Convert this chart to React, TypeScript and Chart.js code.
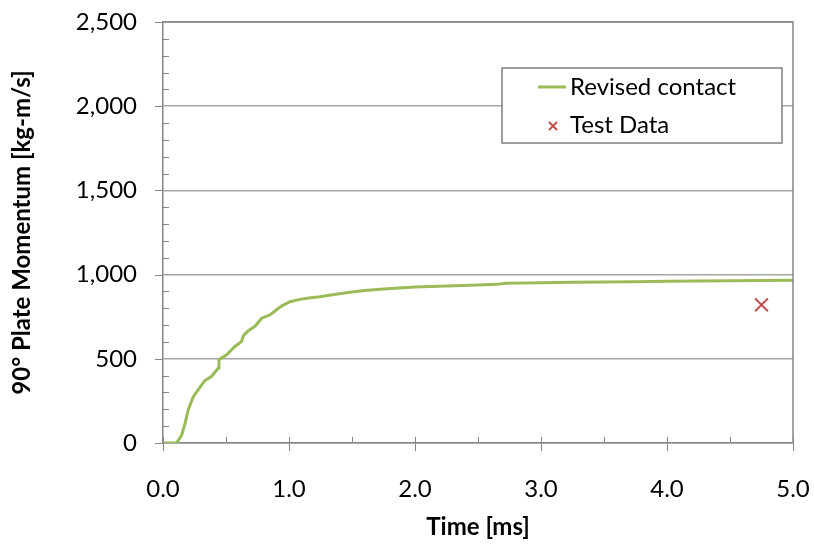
import React, { useEffect, useRef } from "react";
import { Chart, registerables } from "chart.js";

Chart.register(...registerables);

const timeMs = [0, 0.05, 0.108, 0.148, 0.175, 0.2, 0.24, 0.307, 0.333, 0.386, 0.439, 0.444, 0.505, 0.571, 0.624, 0.637, 0.677, 0.73, 0.783, 0.849, 0.889, 0.94, 1.008, 1.087, 1.17, 1.246, 1.37, 1.484, 1.6, 1.75, 2.0, 2.25, 2.5, 2.65, 2.72, 3.0, 3.25, 3.5, 3.75, 4.0, 4.25, 4.5, 4.75, 5.0];
const momentum = [0, 0, 0, 47, 117, 196, 275, 345, 371, 396, 445, 495, 524, 573, 603, 636, 667, 693, 741, 760, 784, 813, 839, 853, 862, 869, 883, 895, 906, 914, 926, 932, 938, 942, 948, 952, 954, 956, 958, 961, 962, 964, 965, 966];

const testTime = [4.75];
const testMomentum = [820];

const yTicks = [0, 500, 1000, 1500, 2000, 2500];
const xTicks = [0, 1, 2, 3, 4, 5];

const seriesNames = ["Revised contact", "Test Data"];
const GREEN = "#9BBB59";
const RED = "#C0504D";
const FONT = "Lato, 'Open Sans', sans-serif";

function zeroPad(s: any) {
  s.paddingTop = 0;
  s.paddingBottom = 0;
  s.paddingLeft = 0;
  s.paddingRight = 0;
}

export default function App() {
  const ref = useRef<HTMLCanvasElement | null>(null);

  useEffect(() => {
    document.body.style.margin = "0";
    const canvas = ref.current;
    if (!canvas) return;

    const decor = {
      id: "decor",
      afterDraw(chart: any) {
        const ctx = chart.ctx;
        const ca = chart.chartArea;
        const xs = chart.scales.x;
        const ys = chart.scales.y;
        ctx.save();
        ctx.strokeStyle = "#868686";
        ctx.lineWidth = 1.5;
        ctx.beginPath();
        ctx.moveTo(ca.left, ca.top);
        ctx.lineTo(ca.right, ca.top);
        ctx.lineTo(ca.right, ca.bottom);
        ctx.stroke();
        ctx.lineWidth = 1;
        for (let v = 0; v <= 2500; v += 100) {
          const y = Math.round(ys.getPixelForValue(v)) + 0.5;
          ctx.beginPath();
          if (v % 500 === 0) {
            ctx.moveTo(ca.left - 8, y);
            ctx.lineTo(ca.left, y);
          } else {
            ctx.moveTo(ca.left, y);
            ctx.lineTo(ca.left + 6, y);
          }
          ctx.stroke();
        }
        for (let v = 0; v <= 5.0001; v += 0.5) {
          const x = Math.round(xs.getPixelForValue(v)) + 0.5;
          ctx.beginPath();
          if (Math.abs(v - Math.round(v)) < 1e-6) {
            ctx.moveTo(x, ca.bottom - 6);
            ctx.lineTo(x, ca.bottom + 8);
          } else {
            ctx.moveTo(x, ca.bottom - 6);
            ctx.lineTo(x, ca.bottom);
          }
          ctx.stroke();
        }
        const lx = 502, ly = 68, lw = 280, lh = 75;
        ctx.fillStyle = "#ffffff";
        ctx.fillRect(lx, ly, lw, lh);
        ctx.strokeStyle = "#7f7f7f";
        ctx.lineWidth = 1.5;
        ctx.strokeRect(lx, ly, lw, lh);
        ctx.font = "24px " + FONT;
        ctx.fillStyle = "#000";
        ctx.textBaseline = "middle";
        ctx.textAlign = "left";
        ctx.strokeStyle = GREEN;
        ctx.lineWidth = 3;
        ctx.beginPath();
        ctx.moveTo(538, 87);
        ctx.lineTo(566, 87);
        ctx.stroke();
        ctx.fillText(seriesNames[0], 570, 87);
        ctx.strokeStyle = RED;
        ctx.lineWidth = 2;
        ctx.beginPath();
        ctx.moveTo(549, 122);
        ctx.lineTo(557, 130);
        ctx.moveTo(557, 122);
        ctx.lineTo(549, 130);
        ctx.stroke();
        ctx.fillText(seriesNames[1], 570, 125);
        ctx.restore();
      },
    };

    const chart = new Chart(canvas, {
      type: "line",
      data: {
        datasets: [
          {
            label: seriesNames[0],
            data: timeMs.map((t, i) => ({ x: t, y: momentum[i] })),
            borderColor: GREEN,
            borderWidth: 3,
            pointRadius: 0,
            fill: false,
            tension: 0,
          },
          {
            label: seriesNames[1],
            data: testTime.map((t, i) => ({ x: t, y: testMomentum[i] })),
            showLine: false,
            pointStyle: "crossRot",
            pointRadius: 9,
            borderColor: RED,
            backgroundColor: RED,
            pointBorderWidth: 2,
          },
        ],
      },
      options: {
        responsive: false,
        animation: false,
        layout: { padding: { top: 22, right: 21, left: 0, bottom: 0 } },
        plugins: { legend: { display: false }, tooltip: { enabled: false } },
        scales: {
          x: {
            type: "linear",
            min: 0,
            max: 5,
            afterBuildTicks: (s: any) => {
              s.ticks = xTicks.map((v) => ({ value: v }));
            },
            afterFit: (s: any) => {
              s.height = 103;
              zeroPad(s);
            },
            grid: { display: false, drawTicks: false },
            border: { display: true, color: "#868686", width: 1.5 },
            ticks: {
              padding: 32,
              color: "#000",
              font: { family: FONT, size: 24 },
              callback: (v: any) => Number(v).toFixed(1),
              maxRotation: 0,
            },
            title: {
              display: true,
              text: "Time [ms]",
              color: "#000",
              font: { family: FONT, size: 24, weight: "bold" },
              padding: { top: 0, bottom: 4 },
            },
          },
          y: {
            type: "linear",
            min: 0,
            max: 2500,
            afterBuildTicks: (s: any) => {
              s.ticks = yTicks.map((v) => ({ value: v }));
            },
            afterFit: (s: any) => {
              s.width = 163;
              zeroPad(s);
            },
            grid: { display: true, color: "#a6a6a6", lineWidth: 1.5, drawTicks: false },
            border: { display: true, color: "#868686", width: 1.5 },
            ticks: {
              padding: 26,
              color: "#000",
              font: { family: FONT, size: 24 },
              callback: (v: any) => Number(v).toLocaleString("en-US"),
            },
            title: {
              display: true,
              text: "90° Plate Momentum [kg-m/s]",
              color: "#000",
              font: { family: FONT, size: 24, weight: "bold" },
              padding: { top: 8, bottom: 0 },
            },
          },
        },
      },
      plugins: [decor],
    } as any);

    return () => chart.destroy();
  }, []);

  return (
    <div style={{ width: 814, height: 546, background: "#fff" }}>
      <canvas ref={ref} width={814} height={546} />
    </div>
  );
}
